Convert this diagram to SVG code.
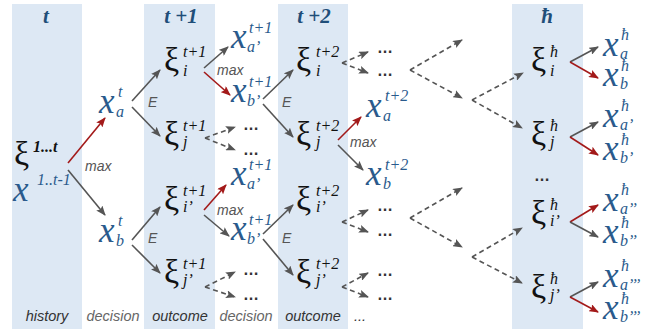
<svg xmlns="http://www.w3.org/2000/svg" width="655" height="335" viewBox="0 0 655 335">
<style>
.col{fill:#dde8f4}
.hdr{font-family:"Liberation Serif",serif;font-style:italic;font-weight:bold;font-size:21px;fill:#1f4e79}
.xi{font-family:"Liberation Serif",serif;font-size:34px;fill:#111}
.sp{font-family:"Liberation Serif",serif;font-style:italic;font-size:16px;fill:#111}
.x{font-family:"Liberation Serif",serif;font-style:italic;font-size:35px;fill:#2a5a8c}
.xs{font-family:"Liberation Serif",serif;font-style:italic;font-size:16px;fill:#2a5a8c}
.lbl{font-family:"Liberation Sans",sans-serif;font-style:italic;font-size:14px;fill:#555}
.ft{font-family:"Liberation Sans",sans-serif;font-style:italic;font-size:14.5px;fill:#333;text-anchor:middle}
.ft2{fill:#666}
.dots{font-family:"Liberation Sans",sans-serif;font-weight:bold;font-size:16px;fill:#333}
.g{stroke:#555;stroke-width:1.6;fill:none;marker-end:url(#ag)}
.r{stroke:#a31a1a;stroke-width:1.6;fill:none;marker-end:url(#ar)}
.d{stroke:#555;stroke-width:1.6;fill:none;stroke-dasharray:5 3.5;marker-end:url(#ag)}
</style>
<defs>
<marker id="ag" markerUnits="userSpaceOnUse" markerWidth="10" markerHeight="8" refX="9" refY="4" orient="auto"><path d="M0,0 L10,4 L0,8 L2,4 z" fill="#555"/></marker>
<marker id="ar" markerUnits="userSpaceOnUse" markerWidth="10" markerHeight="8" refX="9" refY="4" orient="auto"><path d="M0,0 L10,4 L0,8 L2,4 z" fill="#a31a1a"/></marker>
</defs>
<g id="columns">
<rect class="col" x="12" y="4" width="70" height="325"/>
<rect class="col" x="144" y="4" width="71" height="325"/>
<rect class="col" x="278" y="4" width="70" height="325"/>
<rect class="col" x="512" y="4" width="71" height="325"/>
</g>
<g id="headers">
<text class="hdr" x="46" y="23" text-anchor="middle">t</text>
<text class="hdr" x="181" y="23" text-anchor="middle">t +1</text>
<text class="hdr" x="314" y="23" text-anchor="middle">t +2</text>
<text class="hdr" x="547" y="23" text-anchor="middle">ħ</text>
</g>
<g id="footers">
<text class="ft" x="47" y="321">history</text>
<text class="ft ft2" x="113" y="321">decision</text>
<text class="ft" x="180" y="321">outcome</text>
<text class="ft ft2" x="246" y="321">decision</text>
<text class="ft" x="313" y="321">outcome</text>
<text class="ft" x="360" y="321">...</text>
</g>
<g id="connectors">
<line class="r" x1="68" y1="163" x2="105" y2="118"/>
<line class="g" x1="68" y1="170" x2="105" y2="215"/>
<line class="g" x1="132" y1="101" x2="160" y2="70"/>
<line class="g" x1="132" y1="107" x2="160" y2="136"/>
<line class="g" x1="132" y1="240" x2="160" y2="207"/>
<line class="g" x1="132" y1="245" x2="160" y2="273"/>
<line class="g" x1="204" y1="68" x2="228" y2="47"/>
<line class="r" x1="204" y1="72" x2="230" y2="95"/>
<line class="r" x1="204" y1="210" x2="226" y2="185"/>
<line class="g" x1="204" y1="215" x2="229" y2="236"/>
<line class="g" x1="263" y1="99" x2="293" y2="70"/>
<line class="g" x1="263" y1="104" x2="293" y2="137"/>
<line class="g" x1="263" y1="234" x2="293" y2="205"/>
<line class="g" x1="263" y1="239" x2="293" y2="275"/>
<line class="r" x1="338" y1="140" x2="361" y2="117"/>
<line class="g" x1="338" y1="145" x2="363" y2="170"/>
<line class="d" x1="205" y1="138" x2="235" y2="127"/>
<line class="d" x1="205" y1="138" x2="235" y2="150"/>
<line class="d" x1="205" y1="287" x2="235" y2="272"/>
<line class="d" x1="205" y1="287" x2="235" y2="297"/>
<line class="d" x1="342" y1="63" x2="368" y2="52"/>
<line class="d" x1="342" y1="63" x2="368" y2="73"/>
<line class="d" x1="342" y1="222" x2="368" y2="210"/>
<line class="d" x1="342" y1="222" x2="368" y2="232"/>
<line class="d" x1="342" y1="287" x2="368" y2="273"/>
<line class="d" x1="342" y1="287" x2="368" y2="297"/>
<line class="d" x1="410" y1="70" x2="462" y2="40"/>
<line class="d" x1="410" y1="70" x2="462" y2="98"/>
<line class="d" x1="410" y1="218" x2="462" y2="188"/>
<line class="d" x1="410" y1="218" x2="462" y2="247"/>
<line class="d" x1="472" y1="100" x2="523" y2="73"/>
<line class="d" x1="472" y1="100" x2="522" y2="128"/>
<line class="d" x1="472" y1="257" x2="522" y2="228"/>
<line class="d" x1="472" y1="257" x2="522" y2="283"/>
<line class="g" x1="570" y1="62" x2="598" y2="47"/>
<line class="r" x1="570" y1="62" x2="598" y2="78"/>
<line class="g" x1="570" y1="137" x2="598" y2="122"/>
<line class="r" x1="570" y1="137" x2="598" y2="155"/>
<line class="r" x1="570" y1="222" x2="598" y2="205"/>
<line class="g" x1="570" y1="222" x2="598" y2="237"/>
<line class="g" x1="570" y1="297" x2="598" y2="282"/>
<line class="r" x1="570" y1="297" x2="598" y2="312"/>
<text class="lbl" x="85" y="171">max</text>
<text class="lbl" x="217" y="75">max</text>
<text class="lbl" x="217" y="215">max</text>
<text class="lbl" x="350" y="147">max</text>
<text class="lbl" x="148" y="107">E</text>
<text class="lbl" x="148" y="243">E</text>
<text class="lbl" x="282" y="107">E</text>
<text class="lbl" x="282" y="243">E</text>
</g>
<g id="history">
<text class="xi" x="14" y="165">ξ</text><text class="sp" x="33" y="152" font-weight="bold" font-size="17">1...t</text>
<text class="x" x="13" y="201" font-size="41">x</text><text class="xs" x="37" y="185">1..t-1</text>
</g>
<g id="x_t_a"><text class="x" x="99" y="113">x</text><text class="xs" x="118" y="97">t</text><text class="xs" x="116" y="117">a</text></g>
<g id="x_t_b"><text class="x" x="99" y="242">x</text><text class="xs" x="118" y="226">t</text><text class="xs" x="116" y="246">b</text></g>
<g id="xi_t1_i"><text class="xi" x="164" y="71">ξ</text><text class="sp" x="183" y="57">t+1</text><text class="sp" x="183" y="76">i</text></g>
<g id="xi_t1_j"><text class="xi" x="164" y="145">ξ</text><text class="sp" x="183" y="131">t+1</text><text class="sp" x="183" y="147">j</text></g>
<g id="xi_t1_i2"><text class="xi" x="164" y="210">ξ</text><text class="sp" x="183" y="196">t+1</text><text class="sp" x="183" y="212">i’</text></g>
<g id="xi_t1_j2"><text class="xi" x="164" y="283">ξ</text><text class="sp" x="183" y="269">t+1</text><text class="sp" x="183" y="285">j’</text></g>
<g id="x_t1_a1"><text class="x" x="231" y="48">x</text><text class="xs" x="249" y="33">t+1</text><text class="xs" x="247" y="52">a’</text></g>
<g id="x_t1_b1"><text class="x" x="231" y="102">x</text><text class="xs" x="249" y="87">t+1</text><text class="xs" x="247" y="106">b’</text></g>
<g id="x_t1_a2"><text class="x" x="231" y="185">x</text><text class="xs" x="249" y="170">t+1</text><text class="xs" x="247" y="189">a’</text></g>
<g id="x_t1_b2"><text class="x" x="231" y="240">x</text><text class="xs" x="249" y="225">t+1</text><text class="xs" x="247" y="244">b’</text></g>
<g id="dots_t1">
<text class="dots" x="243" y="130">…</text><text class="dots" x="243" y="155">…</text>
<text class="dots" x="243" y="275">…</text><text class="dots" x="243" y="300">…</text>
</g>
<g id="xi_t2_i"><text class="xi" x="296" y="71">ξ</text><text class="sp" x="316" y="57">t+2</text><text class="sp" x="316" y="76">i</text></g>
<g id="xi_t2_j"><text class="xi" x="296" y="145">ξ</text><text class="sp" x="316" y="131">t+2</text><text class="sp" x="316" y="147">j</text></g>
<g id="xi_t2_i2"><text class="xi" x="296" y="210">ξ</text><text class="sp" x="316" y="196">t+2</text><text class="sp" x="316" y="212">i’</text></g>
<g id="xi_t2_j2"><text class="xi" x="296" y="283">ξ</text><text class="sp" x="316" y="269">t+2</text><text class="sp" x="316" y="285">j’</text></g>
<g id="x_t2_a"><text class="x" x="366" y="117">x</text><text class="xs" x="385" y="101">t+2</text><text class="xs" x="383" y="121">a</text></g>
<g id="x_t2_b"><text class="x" x="366" y="185">x</text><text class="xs" x="385" y="170">t+2</text><text class="xs" x="383" y="189">b</text></g>
<g id="dots_t2">
<text class="dots" x="377" y="53">…</text><text class="dots" x="377" y="76">…</text>
<text class="dots" x="377" y="211">…</text><text class="dots" x="377" y="236">…</text>
<text class="dots" x="377" y="276">…</text><text class="dots" x="377" y="300">…</text>
</g>
<g id="xi_h_i"><text class="xi" x="531" y="71">ξ</text><text class="sp" x="550" y="57">ħ</text><text class="sp" x="550" y="76">i</text></g>
<g id="xi_h_j"><text class="xi" x="531" y="145">ξ</text><text class="sp" x="550" y="131">ħ</text><text class="sp" x="550" y="147">j</text></g>
<g id="dots_h"><text class="dots" x="534" y="181" font-size="20" fill="#111">…</text></g>
<g id="xi_h_i2"><text class="xi" x="531" y="224">ξ</text><text class="sp" x="550" y="210">ħ</text><text class="sp" x="550" y="226">i’</text></g>
<g id="xi_h_j2"><text class="xi" x="531" y="298">ξ</text><text class="sp" x="550" y="284">ħ</text><text class="sp" x="550" y="300">j’</text></g>
<g id="x_h_a"><text class="x" x="603" y="56">x</text><text class="xs" x="621" y="40">ħ</text><text class="xs" x="620" y="59">a</text></g>
<g id="x_h_b"><text class="x" x="603" y="86">x</text><text class="xs" x="621" y="71">ħ</text><text class="xs" x="620" y="89">b</text></g>
<g id="x_h_a1"><text class="x" x="603" y="127">x</text><text class="xs" x="621" y="111">ħ</text><text class="xs" x="620" y="130">a’</text></g>
<g id="x_h_b1"><text class="x" x="603" y="160">x</text><text class="xs" x="621" y="145">ħ</text><text class="xs" x="620" y="163">b’</text></g>
<g id="x_h_a2"><text class="x" x="603" y="211">x</text><text class="xs" x="621" y="195">ħ</text><text class="xs" x="620" y="214">a’’</text></g>
<g id="x_h_b2"><text class="x" x="603" y="243">x</text><text class="xs" x="621" y="228">ħ</text><text class="xs" x="620" y="246">b’’</text></g>
<g id="x_h_a3"><text class="x" x="603" y="287">x</text><text class="xs" x="621" y="271">ħ</text><text class="xs" x="620" y="290">a’’’</text></g>
<g id="x_h_b3"><text class="x" x="603" y="319">x</text><text class="xs" x="621" y="304">ħ</text><text class="xs" x="620" y="322">b’’’</text></g>
</svg>
